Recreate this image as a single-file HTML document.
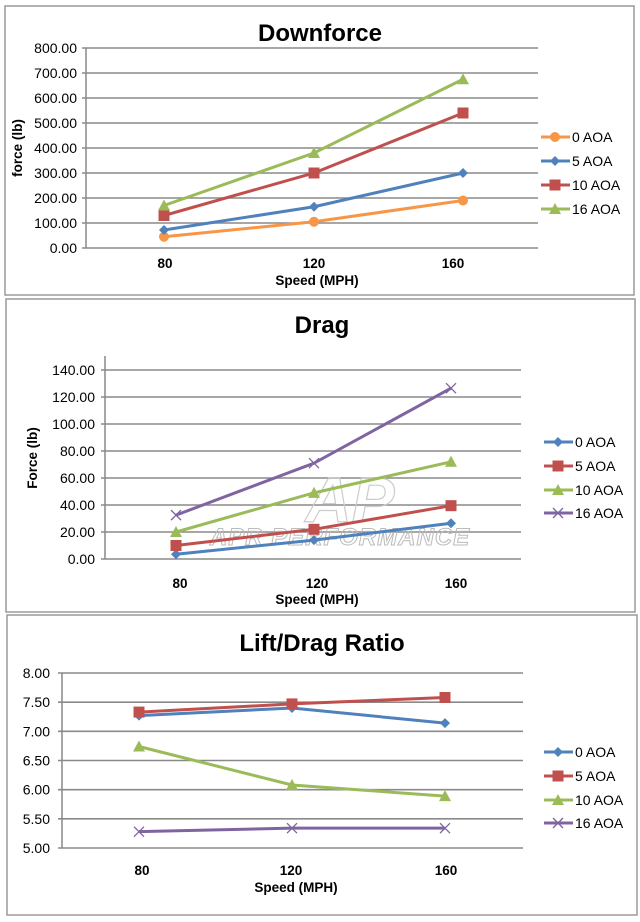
<!DOCTYPE html>
<html><head><meta charset="utf-8"><style>
html,body{margin:0;padding:0;background:#fff;}
svg{display:block;font-family:"Liberation Sans",Arial,sans-serif;}
</style></head><body>
<svg id="s" width="640" height="922" xmlns="http://www.w3.org/2000/svg"></svg>
<script>
const NS="http://www.w3.org/2000/svg",S=document.getElementById('s');
function el(t,a,txt){const e=document.createElementNS(NS,t);for(const k in a)e.setAttribute(k,a[k]);if(txt!==undefined)e.textContent=txt;S.appendChild(e);return e;}
const C={o:"#F79646",b:"#4F81BD",r:"#C0504D",g:"#9BBB59",p:"#8064A2"};
function marker(type,x,y,c){
 if(type=="circle")el('circle',{cx:x,cy:y,r:5,fill:c});
 else if(type=="diamond")el('polygon',{points:`${x},${y-5} ${x+5},${y} ${x},${y+5} ${x-5},${y}`,fill:c});
 else if(type=="square")el('rect',{x:x-5.5,y:y-5.5,width:11,height:11,fill:c});
 else if(type=="tri")el('polygon',{points:`${x},${y-6} ${x+6},${y+5} ${x-6},${y+5}`,fill:c});
 else if(type=="x"){el('path',{d:`M${x-5} ${y-5}L${x+5} ${y+5}M${x+5} ${y-5}L${x-5} ${y+5}`,stroke:c,'stroke-width':1.3});}
}
function chart(o){
 el('rect',{x:o.px,y:o.py,width:o.pw,height:o.ph,fill:'#fff',stroke:'#9a9a9a','stroke-width':1.5});
 el('text',{x:o.tx,y:o.ty,'text-anchor':'middle','font-size':24,'font-weight':'bold',fill:'#000'},o.title);
 el('line',{x1:o.ax1,y1:o.axTop,x2:o.ax1,y2:o.y0,stroke:'#888','stroke-width':1.5});
 for(let i=0;i<o.ticks.length;i++){
  const y=o.y0-(o.y0-o.yTop)*i/(o.ticks.length-1);
  el('line',{x1:o.ax1-4,y1:y,x2:o.ax2,y2:y,stroke:'#8a8a8a','stroke-width':1.6});
  el('text',{x:o.tr,y:y+5,'text-anchor':'end','font-size':14,fill:'#000'},o.ticks[i]);
 }
 o.xl.forEach((l,i)=>el('text',{x:o.xlx[i],y:o.xly,'text-anchor':'middle','font-size':13.5,'font-weight':'bold'},l));
 el('text',{x:o.xtx,y:o.xty,'text-anchor':'middle','font-size':13.5,'font-weight':'bold'},'Speed (MPH)');
 if(o.ylab)el('text',{x:0,y:0,transform:`translate(${o.ylx},${o.yly}) rotate(-90)`,'text-anchor':'middle','font-size':13.5,'font-weight':'bold'},o.ylab);
 if(o.wm){el('text',{x:340,y:545,'text-anchor':'middle','font-size':24,'font-weight':'bold','font-style':'italic',fill:'none',stroke:'#bbb','stroke-width':1,'letter-spacing':1},'APR PERFORMANCE');
  el('text',{x:350,y:522,'text-anchor':'middle','font-size':64,'font-weight':'bold','font-style':'italic',fill:'none',stroke:'#ccc','stroke-width':1.2},'AP');}
 const sc=v=>o.y0-(v-o.vmin)/(o.vmax-o.vmin)*(o.y0-o.yTop);
 o.series.forEach((s,k)=>{
  const pts=s.d.map((v,i)=>[o.xs[i],sc(v)]);
  el('polyline',{points:pts.map(p=>p.join(',')).join(' '),fill:'none',stroke:s.c,'stroke-width':3});
  pts.forEach(p=>marker(s.m,p[0],p[1],s.c));
  const ly=o.ly[k];
  el('line',{x1:o.lx,y1:ly,x2:o.lx+29,y2:ly,stroke:s.c,'stroke-width':3});
  marker(s.m,o.lx+14,ly,s.c);
  el('text',{x:o.lx+31,y:ly+5,'font-size':14},s.n);
 });
}
chart({px:5,py:6,pw:629,ph:289,title:'Downforce',tx:320,ty:41,ax1:86,ax2:538,axTop:48,y0:248,yTop:48,tr:77,vmin:0,vmax:800,
 ticks:['0.00','100.00','200.00','300.00','400.00','500.00','600.00','700.00','800.00'],
 xl:['80','120','160'],xlx:[165,314,453],xly:268,xtx:317,xty:285,ylab:'force (lb)',ylx:22,yly:148,
 xs:[164,314,463],lx:541,ly:[137,161,185,209],
 series:[{n:'0 AOA',c:C.o,m:'circle',d:[45,105,190]},{n:'5 AOA',c:C.b,m:'diamond',d:[72,165,300]},
 {n:'10 AOA',c:C.r,m:'square',d:[130,300,540]},{n:'16 AOA',c:C.g,m:'tri',d:[170,380,675]}]});
chart({px:6,py:299,pw:629,ph:313,title:'Drag',tx:322,ty:333,ax1:105,ax2:521,axTop:356,y0:559,yTop:370,tr:95,vmin:0,vmax:140,
 ticks:['0.00','20.00','40.00','60.00','80.00','100.00','120.00','140.00'],
 xl:['80','120','160'],xlx:[180,317,456],xly:588,xtx:317,xty:604,ylab:'Force (lb)',ylx:37,yly:458,wm:1,
 xs:[176,314,451],lx:544,ly:[442,466,490,513],
 series:[{n:'0 AOA',c:C.b,m:'diamond',d:[3.5,14,26.5]},{n:'5 AOA',c:C.r,m:'square',d:[10,22,39.5]},
 {n:'10 AOA',c:C.g,m:'tri',d:[20,49,72]},{n:'16 AOA',c:C.p,m:'x',d:[32.5,71,126.5]}]});
chart({px:7,py:615,pw:630,ph:300,title:'Lift/Drag Ratio',tx:322,ty:651,ax1:62,ax2:523,axTop:673,y0:848,yTop:673,tr:50,vmin:5,vmax:8,
 ticks:['5.00','5.50','6.00','6.50','7.00','7.50','8.00'],
 xl:['80','120','160'],xlx:[142,291,446],xly:875,xtx:296,xty:892,ylab:'',
 xs:[139,292,445],lx:544,ly:[752,776,800,823],
 series:[{n:'0 AOA',c:C.b,m:'diamond',d:[7.27,7.40,7.14]},{n:'5 AOA',c:C.r,m:'square',d:[7.33,7.47,7.58]},
 {n:'10 AOA',c:C.g,m:'tri',d:[6.74,6.08,5.89]},{n:'16 AOA',c:C.p,m:'x',d:[5.28,5.34,5.34]}]});
</script>
</body></html>
